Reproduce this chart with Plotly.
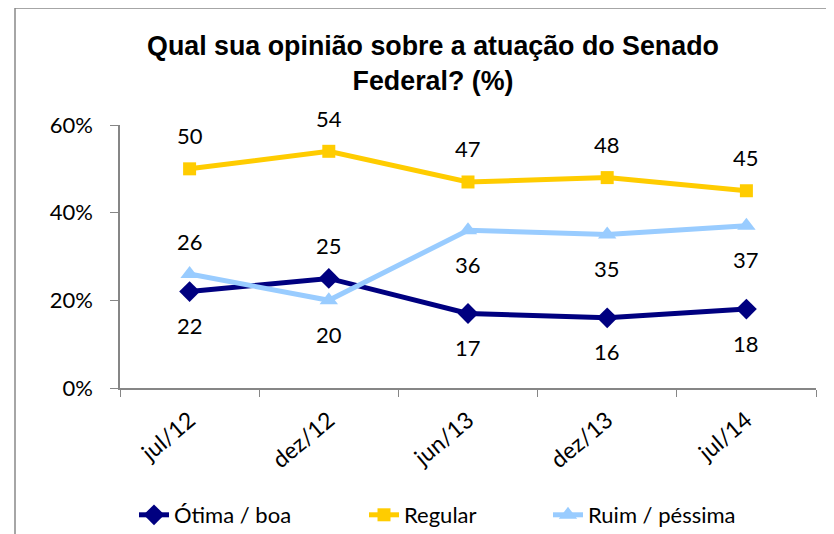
import plotly.graph_objects as go

categories = ["jul/12", "dez/12", "jun/13", "dez/13", "jul/14"]
otima_boa = [22, 25, 17, 16, 18]
regular = [50, 54, 47, 48, 45]
ruim_pessima = [26, 20, 36, 35, 37]
y_ticks = [0, 20, 40, 60]
y_tick_labels = ["0%", "20%", "40%", "60%"]

# label placement (style): +1 above the point, -1 below
otima_side = [-1, 1, -1, -1, -1]
regular_side = [1, 1, 1, 1, 1]
ruim_side = [1, -1, -1, -1, -1]

FONT_FAMILY = "Lato, Carlito, Calibri, sans-serif"
LABEL_FONT = dict(family=FONT_FAMILY, size=22, color="#000000")
TICK_FONT = dict(family=FONT_FAMILY, size=23, color="#000000")
YTICK_FONT = dict(family=FONT_FAMILY, size=22, color="#000000")

# the page body has an 8px margin: figure drawn at (8, 8) in the 834x534 window
OFF = 8
W, H = 834 - OFF, 534 - OFF
# plot area in window pixels
PL, PR, PT, PB = 120, 816, 125, 388
L, R, T, B = PL - OFF, 834 - PR, PT - OFF, 534 - PB
PW, PH = PR - PL, PB - PT


def px_x(p):
    return (p - PL) / PW


def px_y(p):
    return (PB - p) / PH


series = [
    ("Ótima / boa", otima_boa, otima_side, "#000080", "diamond", 16, "legend", 134),
    ("Regular", regular, regular_side, "#FFCC00", "square", 13, "legend2", 364),
    ("Ruim / péssima", ruim_pessima, ruim_side, "#99CCFF", "triangle-up", 16, "legend3", 548),
]

fig = go.Figure()
annotations = []
legends = {}
for name, vals, sides, color, symbol, msize, leg, legx in series:
    fig.add_trace(go.Scatter(
        x=categories, y=vals, name=name, mode="lines+markers",
        line=dict(color=color, width=5),
        marker=dict(symbol=symbol, size=msize, color=color),
        legend=leg,
    ))
    legends[leg] = dict(
        orientation="h", x=px_x(legx), xanchor="left",
        y=px_y(494), yanchor="top", yref="paper",
        font=LABEL_FONT, bgcolor="rgba(0,0,0,0)",
    )
    for c, v, s in zip(categories, vals, sides):
        annotations.append(dict(
            x=c, y=v, xref="x", yref="y", text=str(v), showarrow=False,
            font=LABEL_FONT, yshift=33 if s > 0 else -34,
        ))

fig.update_layout(
    width=W, height=H,
    margin=dict(l=L, r=R, t=T, b=B, autoexpand=False),
    paper_bgcolor="white", plot_bgcolor="white",
    title=dict(
        text="<b>Qual sua opinião sobre a atuação do Senado<br>Federal? (%)</b>",
        font=dict(family="Liberation Sans, Arial, sans-serif", size=26.8, color="#000000"),
        x=425 / W, xanchor="center", xref="container",
        y=1 - 47 / H, yanchor="top", yref="container",
    ),
    annotations=annotations,
    showlegend=True,
    shapes=[dict(
        type="rect", xref="paper", yref="paper",
        x0=px_x(15), x1=px_x(845), y0=px_y(545), y1=px_y(8),
        line=dict(color="#898989", width=1.5), fillcolor="rgba(0,0,0,0)", layer="below",
    )],
    **legends,
)

fig.update_xaxes(
    type="category", range=[-0.5, len(categories) - 0.5], tickson="boundaries",
    ticks="outside", ticklen=7,
    tickcolor="#868686", showline=True, linecolor="#868686", linewidth=1.5,
    showgrid=False, tickangle=-40, tickfont=TICK_FONT, ticklabelstandoff=8,
    automargin=False,
)
fig.update_yaxes(
    range=[0, 60], tickvals=y_ticks, ticktext=y_tick_labels, ticks="outside",
    ticklen=8, tickcolor="#868686", showline=True, linecolor="#868686", linewidth=1.5,
    showgrid=False, zeroline=False, tickfont=YTICK_FONT, ticklabelstandoff=13,
    automargin=False,
)

fig.write_html("out.html")
